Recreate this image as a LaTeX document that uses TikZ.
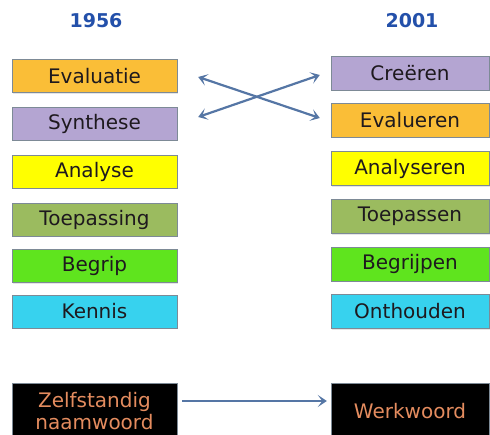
\documentclass[tikz,border=0pt]{standalone}
\usepackage{fontspec}
\setmainfont{DejaVu Sans}
\usetikzlibrary{positioning,arrows.meta,shadows}
\definecolor{yrblue}{RGB}{35,80,170}
\definecolor{arrblue}{RGB}{85,118,165}
\definecolor{boxedge}{RGB}{125,138,150}
\definecolor{orfill}{RGB}{250,190,55}
\definecolor{lilfill}{RGB}{180,165,210}
\definecolor{yelfill}{RGB}{255,255,0}
\definecolor{olvfill}{RGB}{155,187,95}
\definecolor{grnfill}{RGB}{95,228,30}
\definecolor{cyfill}{RGB}{55,210,238}
\definecolor{wordor}{RGB}{228,140,95}
\definecolor{darktxt}{RGB}{30,25,30}

\begin{document}
\begin{tikzpicture}[x=1pt,y=-1pt]
\tikzset{
  YR/.style={font=\fontsize{19}{22}\selectfont\bfseries\color{yrblue}},
  BX/.style={draw=boxedge,fill=#1,thin,rectangle,minimum height=33pt,inner sep=0pt,font=\fontsize{20}{22}\selectfont\color{darktxt},drop shadow={shadow xshift=1.2pt,shadow yshift=-1.2pt,opacity=0.2}},
  LB/.style={BX=#1,minimum width=165pt},
  RB/.style={BX=#1,minimum width=158pt,minimum height=34pt},
  WB/.style={draw=boxedge,fill=black,rectangle,minimum height=56pt,inner sep=0pt,align=center,font=\fontsize{20}{22}\selectfont\color{wordor}},
  AR/.style={{Stealth[length=9pt,width=12pt,inset=4.5pt]}-{Stealth[length=9pt,width=12pt,inset=4.5pt]},line width=2.2pt,arrblue},
  AO/.style={-{Stealth[length=9pt,width=12pt,inset=4.5pt]},line width=2.2pt,arrblue},
}
\clip (0,0) rectangle (490,435);
\fill[white] (0,0) rectangle (490,435);

\node[YR](y56) at ( 96,21){1956};
\node[YR](y01) at (412,21){2001};

\node[LB=orfill] (evl) at (94.5, 76.0){Evaluatie};
\node[LB=lilfill](syn) at (94.5,123.5){Synthese};
\node[LB=yelfill](ana) at (94.5,171.5){Analyse};
\node[LB=olvfill](toe) at (94.5,219.5){Toepassing};
\node[LB=grnfill](beg) at (94.5,266.0){Begrip};
\node[LB=cyfill] (ken) at (94.5,311.5){Kennis};

\node[RB=lilfill](cre) at (410, 73.0){Creëren};
\node[RB=orfill] (evr) at (410,120.0){Evalueren};
\node[RB=yelfill](anr) at (410,168.5){Analyseren};
\node[RB=olvfill](tor) at (410,216.5){Toepassen};
\node[RB=grnfill](bgr) at (410,264.0){Begrijpen};
\node[RB=cyfill] (ont) at (410,311.5){Onthouden};

\node[WB,minimum width=165pt](zn) at (94.5,411){Zelfstandig\\naamwoord};
\node[WB,minimum width=158pt](ww) at (410,411){Werkwoord};

\draw[AR]([xshift=21pt,yshift=-1pt]evl.east)--([xshift=-11pt,yshift=2pt]evr.west);
\draw[AR]([xshift=21pt,yshift=6.5pt]syn.east)--([xshift=-11pt,yshift=-2pt]cre.west);

\draw[AO]([xshift=5pt,yshift=10pt]zn.east)--([xshift=-4pt,yshift=10pt]ww.west);

\end{tikzpicture}
\end{document}
